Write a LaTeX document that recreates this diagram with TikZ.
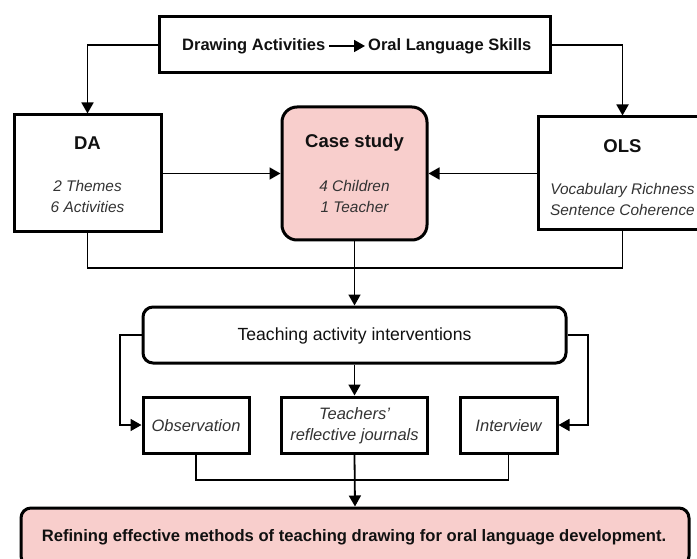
\documentclass[tikz,border=0pt]{standalone}
\usepackage{fontspec}
\setmainfont{Liberation Sans}
\usetikzlibrary{arrows.meta}
\definecolor{pinkfill}{HTML}{F8CECC}
\definecolor{txtgray}{HTML}{333333}
\definecolor{txtdark}{HTML}{111111}
\begin{document}
\begin{tikzpicture}[x=1pt,y=-1pt,
  box/.style={draw=black,line width=3pt,fill=white,inner sep=0pt},
  pinkbox/.style={box,fill=pinkfill},
  conn/.style={draw=black,line width=1.8pt},
  arr/.style={conn,-{Triangle[length=11pt,width=12pt]}},
  titletxt/.style={inner sep=0pt,text=txtdark,font=\fontsize{18.5}{22}\selectfont\bfseries},
  toptxt/.style={inner sep=0pt,text=txtdark,font=\fontsize{16.5}{20}\selectfont\bfseries},
  itxt/.style={inner sep=0pt,text=txtgray,align=center,font=\fontsize{15.4}{21}\selectfont\itshape},
  stxt/.style={inner sep=0pt,text=txtgray,align=center,font=\fontsize{16.5}{20}\selectfont\itshape},
  rtxt/.style={inner sep=0pt,text=txtdark,font=\fontsize{17.6}{21}\selectfont},
  btxt/.style={inner sep=0pt,text=txtdark,font=\fontsize{16.6}{20}\selectfont\bfseries}
]
\useasboundingbox (0,0) rectangle (697,559);
\fill[white] (0,0) rectangle (697,559);
\clip (0,0) rectangle (697,559);

% top box
\node[box,minimum width=391pt,minimum height=56pt] (top) at (354.5,45) {};
\node[toptxt,anchor=west] (topa) at (182,46) {Drawing Activities};
\node[toptxt,anchor=west] (topb) at (368,46) {Oral Language Skills};
\draw[arr] (topa.east) ++(4,0) coordinate (ta) (ta) -- ([xshift=-3pt]topb.west);

% DA
\node[box,minimum width=147pt,minimum height=117pt] (da) at (87.5,173.5) {};
\node[titletxt] (dat) at (87.5,143) {DA};
\node[itxt] (dai) at (87.5,196.5) {2 Themes\\6 Activities};

% Case study
\node[pinkbox,rounded corners=15pt,minimum width=145pt,minimum height=133pt] (case) at (354.5,173.5) {};
\node[titletxt] (caset) at (354.5,143) {Case study};
\node[itxt] (casei) at (354.5,196.5) {4 Children\\1 Teacher};

% OLS
\node[box,minimum width=169pt,minimum height=113pt] (ols) at (622.5,173.5) {};
\node[titletxt] (olst) at (622.5,146) {OLS};
\node[itxt] (olsi) at (622.5,199.5) {Vocabulary Richness\\Sentence Coherence};

% teaching
\node[box,rounded corners=10pt,minimum width=423pt,minimum height=56pt] (teach) at (354.5,335) {};
\node[rtxt] (teacht) at (354.5,336) {Teaching activity interventions};

% methods
\node[box,minimum width=106pt,minimum height=56pt] (obs) at (196,425) {};
\node[stxt] (obst) at (196,426) {Observation};
\node[box,minimum width=146pt,minimum height=56pt] (tr) at (354.5,425) {};
\node[stxt,font=\fontsize{16.5}{20.5}\selectfont\itshape] (trt) at (354.5,425.5) {Teachers\char"27\\reflective journals};
\node[box,minimum width=97pt,minimum height=56pt] (int) at (508.5,425) {};
\node[stxt] (intt) at (508.5,426) {Interview};

% bottom
\node[pinkbox,rounded corners=10pt,minimum width=668pt,minimum height=58pt] (res) at (355,537) {};
\node[btxt] (rest) at (354,537) {Refining effective methods of teaching drawing for oral language development.};

% connectors
\draw[arr] (top.west) -| (da.north);
\draw[arr] (top.east) -| (ols.north);
\draw[arr] (da.east) -- (case.west);
\draw[arr] (ols.west) -- (case.east);
\coordinate (j1) at (354.5,268);
\draw[conn] (da.south) |- (j1);
\draw[conn] (ols.south) |- (j1);
\draw[arr] (case.south) -- (teach.north);

\coordinate (lb) at (120,335);
\coordinate (rb) at (588,335);
\draw[arr] (teach.west) -- (lb) |- (obs.west);
\draw[arr] (teach.east) -- (rb) |- (int.east);
\draw[arr] (teach.south) -- (tr.north);

\coordinate (j2) at (354.5,480);
\draw[conn] (obs.south) |- (j2);
\draw[conn] (int.south) |- (j2);
\draw[arr] (tr.south) -- (res.north);
\end{tikzpicture}
\end{document}
